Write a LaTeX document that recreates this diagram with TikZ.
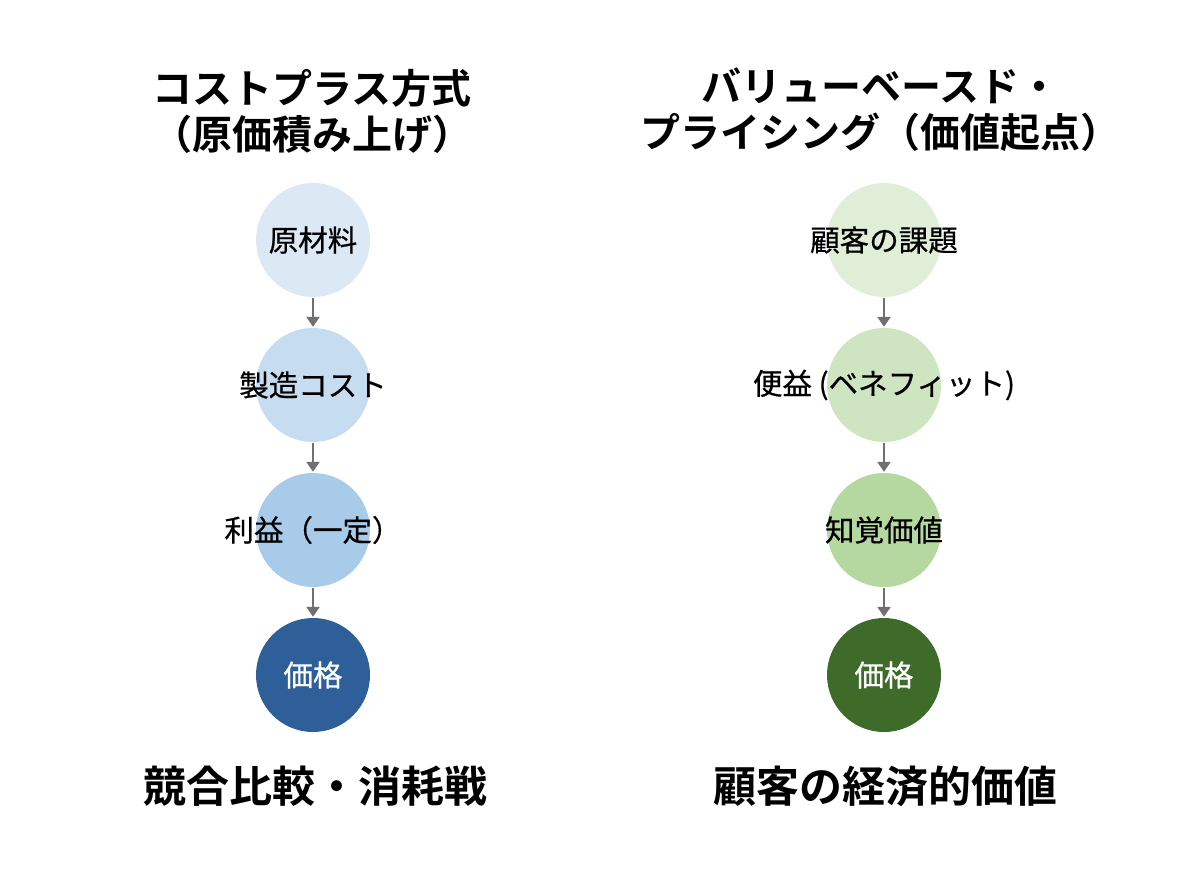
\documentclass[tikz,border=0pt]{standalone}
\usepackage{fontspec}
\setmainfont{Noto Sans CJK JP}[BoldFont={* Bold}]
\newfontfamily\jpmid{Noto Sans CJK JP}[FakeBold=0.6]
\usetikzlibrary{arrows.meta}
\definecolor{bA}{HTML}{DCE9F5}
\definecolor{bB}{HTML}{C6DCF0}
\definecolor{bC}{HTML}{A9CBEA}
\definecolor{bD}{HTML}{2F5F99}
\definecolor{gA}{HTML}{E0EED8}
\definecolor{gB}{HTML}{CFE5C2}
\definecolor{gC}{HTML}{B5D8A0}
\definecolor{gD}{HTML}{3F6B2A}
\definecolor{arr}{HTML}{707070}
\tikzset{
  stage/.style={circle, minimum size=114pt, inner sep=0pt},
  lbl/.style={font=\jpmid\fontsize{29.5}{33}\selectfont, inner sep=0pt},
  flow/.style={draw=arr, line width=2.4pt, -{Triangle[length=10pt,width=13pt]}, shorten <=1pt, shorten >=1pt},
  title/.style={align=center, font=\fontsize{40}{46}\selectfont\bfseries},
  result/.style={font=\fontsize{43}{48}\selectfont\bfseries}
}
\begin{document}
\begin{tikzpicture}[x=1pt,y=-1pt]
\useasboundingbox[fill=white] (0,0) rectangle (1200,896);
% left column
\node[title] (lt) at (312,111) {コストプラス方式\\（原価積み上げ）};
\node[stage, fill=bA, label={[lbl]center:原材料}] (l1) at (313,240) {};
\node[stage, fill=bB, label={[lbl]center:製造コスト}] (l2) at (313,385) {};
\node[stage, fill=bC, label={[lbl]center:利益（一定）}] (l3) at (313,530) {};
\node[stage, fill=bD, label={[lbl, text=white]center:価格}] (l4) at (313,675) {};
\node[result] (lr) at (315,786) {競合比較・消耗戦};
\draw[flow] (l1) -- (l2);
\draw[flow] (l2) -- (l3);
\draw[flow] (l3) -- (l4);
% right column
\node[title] (rt) at (880,110) {バリューベースド・\\プライシング（価値起点）};
\node[stage, fill=gA, label={[lbl]center:顧客の課題}] (r1) at (884,240) {};
\node[stage, fill=gB, label={[lbl]center:便益 (ベネフィット)}] (r2) at (884,385) {};
\node[stage, fill=gC, label={[lbl]center:知覚価値}] (r3) at (884,530) {};
\node[stage, fill=gD, label={[lbl, text=white]center:価格}] (r4) at (884,675) {};
\node[result] (rr) at (885,786) {顧客の経済的価値};
\draw[flow] (r1) -- (r2);
\draw[flow] (r2) -- (r3);
\draw[flow] (r3) -- (r4);
\end{tikzpicture}
\end{document}
